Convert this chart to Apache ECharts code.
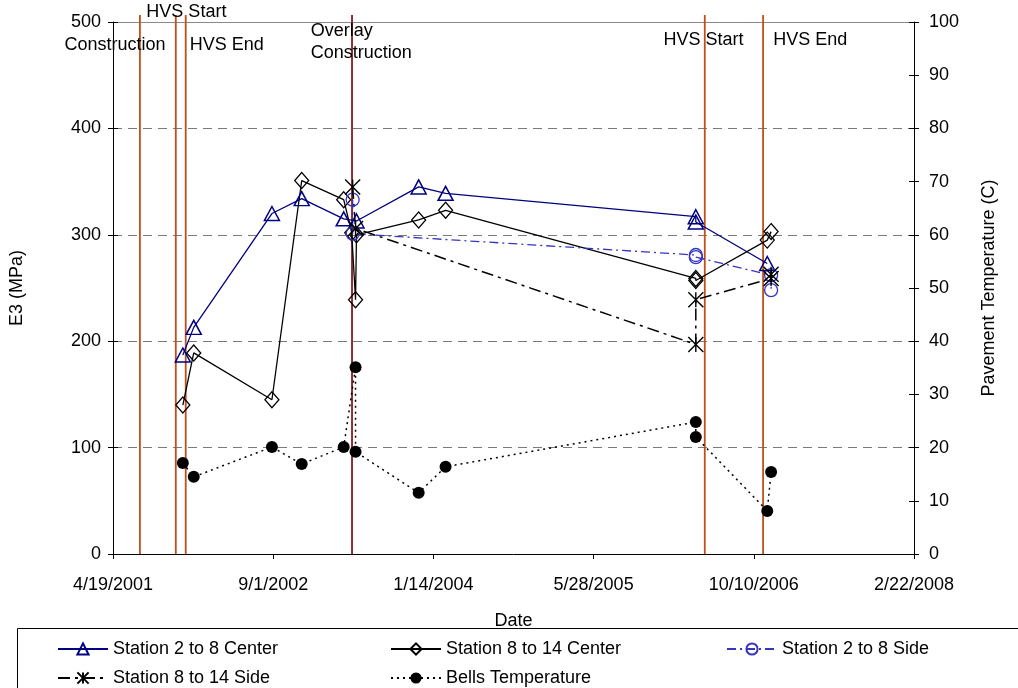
<!DOCTYPE html>
<html><head><meta charset="utf-8">
<script src="https://cdn.jsdelivr.net/npm/echarts@6/dist/echarts.min.js"></script>
<style>html,body{margin:0;padding:0;background:#fff}#c{width:1018px;height:688px}</style>
</head><body><div id="c"></div>
<script>
// ---- data ----
const s28CenterDates = ['2001-11-23','2001-12-27','2002-08-28','2002-11-29','2003-04-09','2003-05-19','2003-11-29','2004-02-21','2006-04-12','2006-04-12','2006-11-21'];
const s28CenterValues = [187,213,320,334,315,313,345,339,317,312,273];
const s814CenterDates = ['2001-11-23','2001-12-27','2002-08-28','2002-11-29','2003-04-09','2003-05-04','2003-05-16','2003-05-19','2003-11-29','2004-02-21','2006-04-12','2006-04-12','2006-11-21','2006-12-03'];
const s814CenterValues = [140,189,145,351,333,302,239,300,314,323,259,257,295,303];
const s28SideDates = ['2003-05-07','2003-05-07','2006-04-12','2006-04-12','2006-12-03','2006-12-03'];
const s28SideValues = [333,301,281,279,262,248];
const s814SideDates = ['2003-05-07','2003-05-16','2006-04-12','2006-04-12','2006-12-03','2006-12-03'];
const s814SideValues = [345,306,197,239,259,263];
const bellsDates = ['2001-11-23','2001-12-27','2002-08-28','2002-11-29','2003-04-09','2003-05-16','2003-05-16','2003-11-29','2004-02-21','2006-04-12','2006-04-12','2006-11-21','2006-12-03'];
const bellsValues = [17.1,14.5,20.1,16.9,20.1,35.1,19.2,11.5,16.4,24.8,22.0,8.1,15.4];
const eventDates = ['2001-07-12','2001-11-01','2001-12-02','2003-05-05','2006-05-10','2006-11-08'];
const eventKinds = ['event','event','event','overlay','event','event'];
const noteTexts = ['Construction','HVS Start','HVS End','Overlay\nConstruction','HVS Start','HVS End'];
const noteDates = ['2001-04-25','2001-12-04','2002-04-09','2002-12-27','2006-05-06','2007-04-04'];
const noteValues = [478,509,478,481,483,483];
const xTickStart = '2001-04-19';
const xTickEnd = '2008-02-22';
const xTickStepDays = 500;

// ---- helpers ----
const EPOCH = Date.UTC(1899,11,30);
const serial = s => Math.round((Date.parse(s) - EPOCH) / 86400000);
const fmtDate = v => { const d = new Date(EPOCH + v*86400000); return (d.getUTCMonth()+1)+'/'+d.getUTCDate()+'/'+d.getUTCFullYear(); };
const pair = (ds, vs) => ds.map((d,i) => [serial(d), vs[i]]);

const FONT = 'Liberation Sans';
const FS = 18;
const NAVY = '#000080';
const SIDEBLUE = '#3535C0';
const EVC = {event:'#C0501A', overlay:'#8B1A1A'};
const asterisk = 'path://M0,0L10,10M10,0L0,10M5,0L5,10';

const eventSeries = eventDates.map((d,i) => ({
  type:'line', name:'ev'+i, silent:true, symbol:'none', clip:false, z:1,
  data:[[serial(d),0],[serial(d),506.5]],
  lineStyle:{color:EVC[eventKinds[i]], width:1.8}
}));

const option = {
  animation:false,
  textStyle:{fontFamily:FONT},
  grid:{left:113, right:104, top:22, bottom:134},
  xAxis:[{
    type:'value', min:serial(xTickStart), max:serial(xTickEnd), interval:xTickStepDays,
    name:'Date', nameLocation:'middle', nameGap:58,
    nameTextStyle:{fontSize:FS, color:'#000', fontFamily:FONT},
    axisLine:{onZero:false, lineStyle:{color:'#000', width:1}},
    axisTick:{show:true, length:5, lineStyle:{color:'#000'}},
    axisLabel:{formatter:fmtDate, fontSize:FS, color:'#000', margin:22, fontFamily:FONT},
    splitLine:{show:false}
  },{
    type:'value', position:'top', min:serial(xTickStart), max:serial(xTickEnd),
    axisLine:{show:true, onZero:false, lineStyle:{color:'#8a8a8a', width:1.2}}, axisTick:{show:false}, axisLabel:{show:false}, splitLine:{show:false}
  }],
  yAxis:[{
    type:'value', min:0, max:500, interval:100, position:'left',
    name:'E3 (MPa)', nameLocation:'middle', nameGap:87, nameRotate:90,
    nameTextStyle:{fontSize:FS, color:'#000', fontFamily:FONT},
    axisLine:{show:true, onZero:false, lineStyle:{color:'#000'}},
    axisTick:{show:true, length:5, lineStyle:{color:'#000'}},
    axisLabel:{fontSize:FS, color:'#000', margin:12, fontFamily:FONT},
    splitLine:{show:true, lineStyle:{color:'#7a7a7a', type:[9,6], width:1}}
  },{
    type:'value', min:0, max:100, interval:10, position:'right',
    name:'Pavement Temperature (C)', nameLocation:'middle', nameGap:66, nameRotate:90,
    nameTextStyle:{fontSize:FS, color:'#000', fontFamily:FONT},
    axisLine:{show:true, onZero:false, lineStyle:{color:'#000'}},
    axisTick:{show:true, length:5, lineStyle:{color:'#000'}},
    axisLabel:{fontSize:FS, color:'#000', margin:15, fontFamily:FONT},
    splitLine:{show:false}
  },{
    type:'value', min:0, max:100, interval:10, position:'right',
    axisLine:{show:false, onZero:false}, axisTick:{show:true, inside:true, length:5, lineStyle:{color:'#000'}},
    axisLabel:{show:false}, splitLine:{show:false}
  },{
    type:'value', min:0, max:500, interval:100, position:'left',
    axisLine:{show:false, onZero:false}, axisTick:{show:true, inside:true, length:5, lineStyle:{color:'#000'}},
    axisLabel:{show:false}, splitLine:{show:false}
  }],
  legend:[
    {data:['Station 2 to 8 Center'], left:57, top:640},
    {data:['Station 8 to 14 Center'], left:390, top:640},
    {data:['Station 2 to 8 Side'], left:726, top:640},
    {data:['Station 8 to 14 Side'], left:57, top:669},
    {data:['Bells Temperature'], left:390, top:669}
  ].map(l => Object.assign(l, {itemWidth:50, itemHeight:14, itemGap:4, padding:0,
      textStyle:{fontSize:FS, color:'#000', fontFamily:FONT}})),
  graphic:[{type:'rect', shape:{x:17.5, y:628.5, width:1010, height:70}, style:{fill:'none', stroke:'#000', lineWidth:1}, silent:true}],
  series:[
    ...eventSeries,
    {type:'line', name:'Station 2 to 8 Center', data:pair(s28CenterDates, s28CenterValues), z:5,
     symbol:'triangle', symbolSize:[15,14],
     lineStyle:{color:NAVY, width:1.3}, itemStyle:{color:'rgba(255,255,255,0)', borderColor:NAVY, borderWidth:1.5}},
    {type:'line', name:'Station 8 to 14 Center', data:pair(s814CenterDates, s814CenterValues), z:5,
     symbol:'diamond', symbolSize:[14,16],
     lineStyle:{color:'#000', width:1.3}, itemStyle:{color:'rgba(255,255,255,0)', borderColor:'#000', borderWidth:1.3}},
    {type:'line', name:'Station 2 to 8 Side', data:pair(s28SideDates, s28SideValues), z:5,
     symbol:'circle', symbolSize:13,
     lineStyle:{color:SIDEBLUE, width:1.3, type:[9,4,2,4]}, itemStyle:{color:'rgba(255,255,255,0)', borderColor:SIDEBLUE, borderWidth:1.3}},
    {type:'line', name:'Station 8 to 14 Side', data:pair(s814SideDates, s814SideValues), z:5,
     symbol:asterisk, symbolSize:15,
     lineStyle:{color:'#000', width:1.5, type:[12,5,3,5]}, itemStyle:{color:'rgba(0,0,0,0)', borderColor:'#000', borderWidth:1.4}},
    {type:'line', name:'Bells Temperature', yAxisIndex:1, data:pair(bellsDates, bellsValues), z:5,
     symbol:'circle', symbolSize:12,
     lineStyle:{color:'#000', width:1.5, type:[2,4]}, itemStyle:{color:'#000', borderColor:'#000', borderWidth:0}},
    {type:'scatter', name:'notes', silent:true, symbolSize:0, z:6, clip:false,
     data:noteDates.map((d,i) => ({value:[serial(d), noteValues[i]],
       label:{align: noteTexts[i].indexOf('\n')>=0 ? 'left' : 'center'}})),
     label:{show:true, position:'inside', color:'#000', opacity:1, textBorderWidth:0, fontSize:18, fontFamily:FONT, lineHeight:22,
       formatter:p => noteTexts[p.dataIndex]}}
  ]
};
const chart = echarts.init(document.getElementById('c'), null, {renderer:'canvas'});
chart.setOption(option);
</script></body></html>
